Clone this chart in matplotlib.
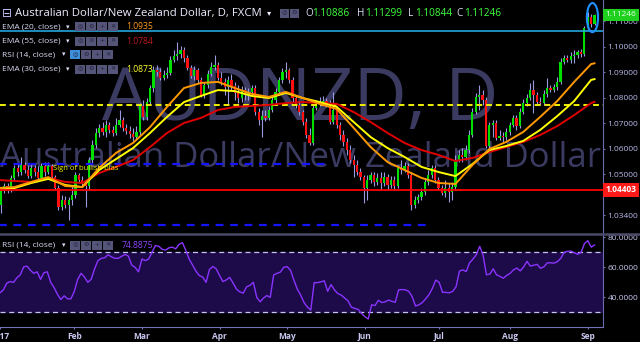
import numpy as np
import pandas as pd
import matplotlib.pyplot as plt
from matplotlib.patches import Ellipse, Rectangle
from matplotlib.lines import Line2D

plt.rcParams['font.family'] = ['Open Sans', 'DejaVu Sans']

# AUDNZD daily bars, 2 Jan 2017 .. 5 Sep 2017
first_open = 1.0431
close = [
    1.0380, 1.0439, 1.0454, 1.0439, 1.0486, 1.0525, 1.0509, 1.0536, 1.0517, 1.0493,
    1.0525, 1.0509, 1.0486, 1.0533, 1.0509, 1.0533, 1.0489, 1.0446, 1.0372, 1.0399,
    1.0380, 1.0399, 1.0419, 1.0497, 1.0478, 1.0466, 1.0454, 1.0556, 1.0615, 1.0662,
    1.0682, 1.0666, 1.0693, 1.0674, 1.0662, 1.0693, 1.0713, 1.0682, 1.0670, 1.0658,
    1.0646, 1.0666, 1.0768, 1.0725, 1.0783, 1.0838, 1.0909, 1.0901, 1.0877, 1.0889,
    1.0897, 1.0948, 1.0964, 1.0971, 1.0987, 1.0956, 1.0917, 1.0885, 1.0909, 1.0870,
    1.0811, 1.0850, 1.0893, 1.0920, 1.0928, 1.0877, 1.0862, 1.0842, 1.0870, 1.0846,
    1.0819, 1.0799, 1.0830, 1.0811, 1.0823, 1.0838, 1.0744, 1.0713, 1.0728, 1.0721,
    1.0752, 1.0791, 1.0823, 1.0870, 1.0901, 1.0909, 1.0870, 1.0799, 1.0772, 1.0744,
    1.0705, 1.0654, 1.0623, 1.0760, 1.0776, 1.0783, 1.0787, 1.0776, 1.0705, 1.0752,
    1.0693, 1.0654, 1.0627, 1.0595, 1.0556, 1.0536, 1.0509, 1.0489, 1.0446, 1.0478,
    1.0497, 1.0470, 1.0486, 1.0466, 1.0489, 1.0458, 1.0478, 1.0454, 1.0525, 1.0517,
    1.0533, 1.0497, 1.0380, 1.0399, 1.0411, 1.0431, 1.0470, 1.0497, 1.0525, 1.0478,
    1.0446, 1.0427, 1.0446, 1.0431, 1.0450, 1.0556, 1.0576, 1.0568, 1.0595, 1.0654,
    1.0744, 1.0803, 1.0811, 1.0791, 1.0611, 1.0693, 1.0701, 1.0642, 1.0650, 1.0646,
    1.0666, 1.0693, 1.0721, 1.0689, 1.0744, 1.0779, 1.0799, 1.0830, 1.0811, 1.0783,
    1.0779, 1.0815, 1.0838, 1.0830, 1.0842, 1.0862, 1.0940, 1.0956, 1.0948, 1.0964,
    1.0968, 1.0979, 1.0971, 1.1073, 1.1116, 1.10886, 1.11246]
high = [
    1.0439, 1.0450, 1.0466, 1.0466, 1.0497, 1.0536, 1.0544, 1.0568, 1.0548, 1.0536,
    1.0540, 1.0536, 1.0533, 1.0544, 1.0548, 1.0548, 1.0540, 1.0497, 1.0458, 1.0419,
    1.0415, 1.0411, 1.0458, 1.0509, 1.0505, 1.0493, 1.0478, 1.0568, 1.0634, 1.0682,
    1.0697, 1.0705, 1.0713, 1.0705, 1.0689, 1.0721, 1.0752, 1.0725, 1.0697, 1.0689,
    1.0682, 1.0689, 1.0779, 1.0791, 1.0799, 1.0850, 1.0924, 1.0928, 1.0917, 1.0909,
    1.0920, 1.0964, 1.0987, 1.1018, 1.1003, 1.0999, 1.0968, 1.0928, 1.0924, 1.0917,
    1.0881, 1.0862, 1.0909, 1.0940, 1.0968, 1.0940, 1.0901, 1.0877, 1.0885, 1.0893,
    1.0862, 1.0850, 1.0846, 1.0842, 1.0838, 1.0850, 1.0850, 1.0760, 1.0752, 1.0752,
    1.0768, 1.0807, 1.0838, 1.0881, 1.0917, 1.0940, 1.0917, 1.0881, 1.0811, 1.0787,
    1.0752, 1.0721, 1.0682, 1.0772, 1.0791, 1.0803, 1.0807, 1.0799, 1.0791, 1.0823,
    1.0768, 1.0705, 1.0674, 1.0642, 1.0615, 1.0576, 1.0556, 1.0525, 1.0497, 1.0497,
    1.0509, 1.0509, 1.0505, 1.0509, 1.0509, 1.0501, 1.0493, 1.0493, 1.0536, 1.0556,
    1.0548, 1.0544, 1.0509, 1.0415, 1.0423, 1.0446, 1.0486, 1.0517, 1.0536, 1.0536,
    1.0489, 1.0458, 1.0478, 1.0466, 1.0470, 1.0576, 1.0595, 1.0603, 1.0615, 1.0674,
    1.0760, 1.0819, 1.0850, 1.0830, 1.0803, 1.0705, 1.0713, 1.0713, 1.0674, 1.0666,
    1.0682, 1.0705, 1.0732, 1.0732, 1.0760, 1.0795, 1.0815, 1.0858, 1.0870, 1.0823,
    1.0803, 1.0830, 1.0877, 1.0850, 1.0854, 1.0881, 1.0956, 1.0968, 1.0968, 1.0979,
    1.0987, 1.0987, 1.0991, 1.1081, 1.1136, 1.1128, 1.11299]
low = [
    1.0372, 1.0348, 1.0427, 1.0427, 1.0431, 1.0478, 1.0493, 1.0497, 1.0505, 1.0486,
    1.0486, 1.0493, 1.0478, 1.0478, 1.0493, 1.0501, 1.0478, 1.0439, 1.0360, 1.0360,
    1.0368, 1.0321, 1.0380, 1.0407, 1.0466, 1.0454, 1.0372, 1.0439, 1.0544, 1.0603,
    1.0646, 1.0654, 1.0646, 1.0662, 1.0650, 1.0654, 1.0685, 1.0670, 1.0658, 1.0642,
    1.0631, 1.0638, 1.0654, 1.0713, 1.0713, 1.0772, 1.0823, 1.0885, 1.0870, 1.0870,
    1.0877, 1.0889, 1.0940, 1.0948, 1.0956, 1.0940, 1.0909, 1.0877, 1.0870, 1.0858,
    1.0803, 1.0799, 1.0838, 1.0885, 1.0909, 1.0870, 1.0850, 1.0811, 1.0772, 1.0830,
    1.0791, 1.0779, 1.0783, 1.0791, 1.0791, 1.0811, 1.0732, 1.0693, 1.0646, 1.0709,
    1.0713, 1.0744, 1.0779, 1.0811, 1.0858, 1.0877, 1.0858, 1.0783, 1.0760, 1.0732,
    1.0693, 1.0642, 1.0615, 1.0615, 1.0752, 1.0768, 1.0772, 1.0764, 1.0697, 1.0697,
    1.0682, 1.0634, 1.0611, 1.0576, 1.0544, 1.0489, 1.0497, 1.0478, 1.0388, 1.0399,
    1.0466, 1.0454, 1.0458, 1.0439, 1.0454, 1.0439, 1.0446, 1.0439, 1.0446, 1.0501,
    1.0509, 1.0486, 1.0360, 1.0368, 1.0388, 1.0399, 1.0419, 1.0458, 1.0486, 1.0466,
    1.0439, 1.0419, 1.0411, 1.0392, 1.0399, 1.0439, 1.0548, 1.0548, 1.0556, 1.0584,
    1.0646, 1.0736, 1.0752, 1.0772, 1.0603, 1.0603, 1.0646, 1.0634, 1.0634, 1.0623,
    1.0634, 1.0654, 1.0685, 1.0674, 1.0682, 1.0736, 1.0768, 1.0791, 1.0740, 1.0776,
    1.0772, 1.0772, 1.0803, 1.0823, 1.0823, 1.0830, 1.0854, 1.0932, 1.0940, 1.0936,
    1.0936, 1.0956, 1.0960, 1.0964, 1.1065, 1.1077, 1.10844]

# moving averages, read every 5 bars
ema_idx = list(range(0, 176, 5)) + [176]
ema20 = [1.0446, 1.0450, 1.0470, 1.0489, 1.0454, 1.0450, 1.0525, 1.0584, 1.0623, 1.0685,
         1.0764, 1.0838, 1.0858, 1.0862, 1.0838, 1.0815, 1.0803, 1.0823, 1.0799, 1.0776,
         1.0756, 1.0682, 1.0607, 1.0548, 1.0517, 1.0486, 1.0466, 1.0462, 1.0536, 1.0599,
         1.0627, 1.0666, 1.0725, 1.0787, 1.0862, 1.0932, 1.0935]
ema30 = [1.0439, 1.0446, 1.0466, 1.0482, 1.0458, 1.0450, 1.0517, 1.0560, 1.0603, 1.0662,
         1.0725, 1.0783, 1.0807, 1.0830, 1.0826, 1.0807, 1.0799, 1.0819, 1.0799, 1.0783,
         1.0764, 1.0705, 1.0646, 1.0603, 1.0568, 1.0529, 1.0509, 1.0493, 1.0540, 1.0595,
         1.0611, 1.0631, 1.0674, 1.0728, 1.0787, 1.0870, 1.0873]
ema55 = [1.0478, 1.0474, 1.0470, 1.0486, 1.0470, 1.0466, 1.0505, 1.0529, 1.0556, 1.0607,
         1.0662, 1.0701, 1.0721, 1.0752, 1.0764, 1.0768, 1.0772, 1.0779, 1.0783, 1.0779,
         1.0776, 1.0744, 1.0705, 1.0662, 1.0623, 1.0595, 1.0576, 1.0552, 1.0564, 1.0587,
         1.0607, 1.0627, 1.0654, 1.0689, 1.0732, 1.0779, 1.0784]

rsi = [
    43.0, 45.0, 49.4, 50.5, 50.0, 53.0, 55.0, 60.3, 60.8, 58.0,
    56.0, 57.0, 52.0, 56.4, 57.0, 50.0, 46.5, 42.0, 38.5, 41.0,
    39.0, 39.0, 44.0, 52.0, 56.0, 53.5, 50.0, 52.0, 59.0, 64.5,
    66.0, 66.4, 68.4, 67.0, 66.0, 66.0, 67.3, 68.6, 67.5, 61.5,
    60.0, 57.0, 65.5, 64.5, 65.5, 70.0, 74.5, 74.0, 72.0, 71.5,
    73.0, 73.5, 72.3, 75.3, 76.5, 71.3, 65.5, 61.5, 57.5, 54.5,
    53.5, 50.0, 58.5, 60.6, 59.0, 54.5, 50.5, 51.6, 53.3, 49.5,
    45.5, 43.6, 42.8, 47.0, 48.0, 50.0, 40.0, 37.0, 39.5, 41.2,
    40.0, 54.9, 56.0, 56.8, 60.0, 60.5, 58.0, 51.5, 45.5, 41.5,
    36.5, 33.5, 31.5, 49.8, 49.8, 50.3, 51.0, 44.0, 48.5, 45.0,
    42.5, 41.5, 39.6, 37.7, 33.5, 32.6, 32.0, 29.3, 27.1, 25.5,
    35.0, 34.5, 38.0, 36.5, 37.0, 38.2, 37.3, 36.7, 45.0, 45.2,
    45.0, 44.0, 40.5, 34.2, 35.0, 36.5, 39.0, 41.8, 46.0, 51.5,
    50.0, 43.3, 43.3, 43.0, 44.0, 47.0, 57.5, 58.3, 57.2, 63.0,
    65.5, 68.5, 74.0, 68.0, 55.0, 55.5, 59.0, 55.0, 54.0, 52.7,
    54.6, 56.0, 58.3, 59.5, 57.6, 60.3, 64.0, 60.8, 61.4, 62.0,
    59.4, 60.3, 63.0, 63.0, 62.8, 63.8, 66.0, 70.0, 70.7, 70.8,
    69.8, 68.7, 70.0, 75.8, 77.8, 73.5, 74.89]

# drawn levels
level_cyan = 1.1060
level_yellow = 1.0770
level_blue_hi = 1.0540
level_blue_lo = 1.0301
level_red = 1.04403
blue_hi_end = 97
blue_lo_end = 128
last_close = 1.11246

W, H = 640, 342


def fx(x):
    return x / W


def fy(y):
    return 1 - y / H


fig = plt.figure(figsize=(6.4, 3.42), dpi=100, facecolor='black')
ax = fig.add_axes([0, fy(233), fx(603), 233 / H], facecolor='black')
rx = fig.add_axes([0, fy(327), fx(603), 94 / H], facecolor='black')

n = len(close)
idx = np.arange(n)
close = np.array(close)
high = np.array(high)
low = np.array(low)
opn = np.r_[first_open, close[:-1]]

wm = '#3b3b62'
ax.text(300 / 603, 1 - 120 / 233, "AUDNZD, D", transform=ax.transAxes, fontsize=53,
        color=wm, ha='center', va='baseline', zorder=0.5)
ax.text(301 / 603, 1 - 167 / 233, "Australian Dollar/New Zealand Dollar", transform=ax.transAxes,
        fontsize=25, color=wm, ha='center', va='baseline', zorder=0.5)

# levels
ax.axhline(level_cyan, color='#27b4ee', lw=1.1, zorder=3.5)
ax.axhline(level_yellow, color='#f0f000', lw=1.4, dashes=(3, 2), zorder=3.5)
ax.plot([0, blue_hi_end], [level_blue_hi] * 2, color='#1515ff', lw=1.6, dashes=(3.5, 3), zorder=3.5)
ax.plot([0, blue_lo_end], [level_blue_lo] * 2, color='#1515ff', lw=1.6, dashes=(3.5, 3), zorder=3.5)

# candles
up = close > opn
flat = np.abs(close - opn) < 0.00025
body_col = np.where(flat, '#9d9de0', np.where(up, '#00e000', '#ff1010'))
ax.vlines(idx, low, high, color='#9a9ae0', lw=0.8, zorder=2)
ax.bar(idx, np.maximum(np.abs(close - opn), 0.0002), bottom=np.minimum(close, opn),
       width=0.66, color=body_col, linewidth=0, zorder=3)

ax.plot(ema_idx, ema55, color='#e00000', lw=1.4, zorder=4)
ax.plot(ema_idx, ema30, color='#ffff00', lw=1.4, zorder=4)
ax.plot(ema_idx, ema20, color='#ff9900', lw=1.4, zorder=4)
ax.axhline(level_red, color='#ff0000', lw=1.3, zorder=5)

ax.add_patch(Ellipse((175.4, 1.1114), 3.3, 0.0114, fill=False, ec='#1e90ff', lw=1.5, zorder=6))
ax.text(16.4, 1.0521, "Sign of bullish bias", fontsize=5.5, color='#f5f500', va='center', zorder=5)

ax.set_xlim(0.77, 178.5)
ax.set_ylim(1.0270, 1.1183)
ax.yaxis.tick_right()
yt = [1.034, 1.042, 1.05, 1.06, 1.07, 1.08, 1.09, 1.10, 1.11]
ax.set_yticks(yt)
ax.set_yticklabels(['%.5f' % v for v in yt])
ax.tick_params(axis='y', colors='#6c6cae', labelcolor='#b9b9ec', labelsize=6, length=1.5, pad=1.8)
ax.tick_params(axis='x', bottom=False, labelbottom=False)
for s in ['left', 'top', 'bottom']:
    ax.spines[s].set_visible(False)
ax.spines['right'].set_color('#6c6cae')

ax.text(1.004, last_close, "1.11246", transform=ax.get_yaxis_transform(), fontsize=6,
        color='#e4ffe4', va='center', ha='left', clip_on=False, zorder=10,
        bbox=dict(boxstyle='square,pad=0.3', fc='#1fd01f', ec='none'))
ax.text(1.004, level_red, "1.04403", transform=ax.get_yaxis_transform(), fontsize=6,
        color='white', va='center', ha='left', clip_on=False, zorder=10, fontweight='bold',
        bbox=dict(boxstyle='square,pad=0.3', fc='#ff1a1a', ec='none'))

# RSI panel
rx.axhspan(30, 70, color='#1c0b48', zorder=0)
rx.axhline(70, color='#c4c4f4', lw=0.9, dashes=(4, 3))
rx.axhline(30, color='#c4c4f4', lw=0.9, dashes=(4, 3))
rx.plot(idx, rsi, color='#8a33ff', lw=1.0)
rx.set_xlim(0.77, 178.5)
rx.set_ylim(20.2, 82.9)
rx.yaxis.tick_right()
rx.set_yticks([40, 60, 80])
rx.set_yticklabels(['40.0000', '60.0000', '80.0000'])
dates = pd.bdate_range('2017-01-02', periods=n)
month_pos = [i for i in range(n) if i == 0 or dates[i].month != dates[i - 1].month]
month_lab = ['2017'] + [dates[i].strftime('%b') for i in month_pos[1:]]
rx.set_xticks(month_pos)
rx.set_xticklabels(month_lab)
rx.tick_params(axis='both', colors='#7272b4', labelcolor='#c8c8f0', labelsize=6, length=1.5, pad=1.8)
for lbl in rx.get_xticklabels():
    lbl.set_fontweight('bold')
for s in ['left', 'top']:
    rx.spines[s].set_visible(False)
rx.spines['right'].set_color('#6c6cae')
rx.spines['bottom'].set_color('#7272b4')

fig.add_artist(Line2D([0, 1], [fy(233.5)] * 2, transform=fig.transFigure, color='#4a4a68', lw=1.8))

# header and legends
lav = '#dcdcf5'
fig.text(fx(2), fy(13.5), "⊟", fontsize=8.5, color='#c8c8ff', va='center', family=['DejaVu Sans'])
fig.text(fx(15), fy(13.5), "Australian Dollar/New Zealand Dollar, D, FXCM", fontsize=8.2,
         color='#ececff', va='center')
fig.text(fx(267), fy(13), "▾", fontsize=6, color='#ececff', va='center', family=['DejaVu Sans'])


def icon(x, y, sym, fc='#55557a', w=10, h=9):
    fig.add_artist(Rectangle((fx(x), fy(y + h / 2)), w / W, h / H, transform=fig.transFigure,
                             fc=fc, ec='none'))
    fig.text(fx(x + w / 2), fy(y), sym, fontsize=4.5, color='#20203a', ha='center', va='center',
             family=['DejaVu Sans'])


icon(280, 13, "◎", w=9)
icon(290, 13, "⚙", w=9)

green = '#3cff3c'
for txt, x, col in [("O", 305, lav), ("1.10886", 312, green), ("H", 357, lav), ("1.11299", 365, green),
                    ("L", 408, lav), ("1.10844", 415, green), ("C", 456, lav), ("1.11246", 464, green)]:
    fig.text(fx(x), fy(13.5), txt, fontsize=7.2, color=col, va='center')

rows = [("EMA (20, close)", 26.7, 75, 66, "1.0935", '#ff9a1a'),
        ("EMA (55, close)", 41, 75, 66, "1.0784", '#c41a1a'),
        ("RSI (14, close)", 54.5, 70, 61.5, None, None),
        ("EMA (30, close)", 69, 75, 66, "1.0873", '#ffff30')]
for name, y, ix, arrow_x, val, vcol in rows:
    fig.text(fx(2), fy(y), name, fontsize=6.0, color=lav, va='center')
    fig.text(fx(arrow_x), fy(y), "▾", fontsize=5, color=lav, va='center', family=['DejaVu Sans'])
    first = '#3d8fd9' if val is None else '#55557a'
    icon(ix, y, "◎", fc=first)
    icon(ix + 11, y, "⚙")
    icon(ix + 22, y, "+")
    icon(ix + 33, y, "✕")
    if val is not None:
        fig.text(fx(126), fy(y), val, fontsize=6.2, color=vcol, va='center')

fig.text(fx(2), fy(245), "RSI (14, close)", fontsize=6.0, color=lav, va='center')
fig.text(fx(61.5), fy(245), "▾", fontsize=5, color=lav, va='center', family=['DejaVu Sans'])
icon(70, 245, "◎")
icon(81, 245, "⚙")
icon(92, 245, "+")
icon(103, 245, "✕")
fig.text(fx(122), fy(245), "74.8875", fontsize=6.2, color='#9146ff', va='center')

fig.savefig("out.png", dpi=100, facecolor='black')
